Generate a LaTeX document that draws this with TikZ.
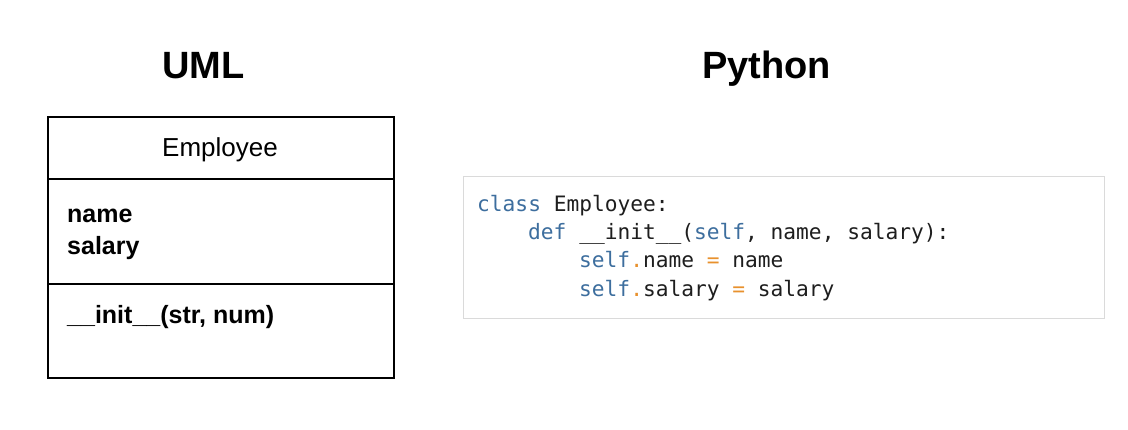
\documentclass[tikz,border=0pt]{standalone}
\usepackage{fontspec}
\setmainfont{Liberation Sans}
\setmonofont{DejaVu Sans Mono}
\definecolor{kw}{HTML}{3D6E9E}
\definecolor{op}{HTML}{E8912D}
\definecolor{codetxt}{HTML}{1E1E1E}
\definecolor{codeframe}{HTML}{DADADA}
\tikzset{
  titletext/.style={font=\bfseries\fontsize{38}{40}\selectfont, inner sep=0pt, anchor=base},
  compartment/.style={draw=black, line width=2pt, minimum width=346pt, anchor=north west, inner sep=0pt},
  classname/.style={font=\fontsize{26}{30}\selectfont, inner sep=0pt, anchor=base},
  member/.style={font=\bfseries\fontsize{25}{30}\selectfont, inner sep=0pt, anchor=base west},
  codeline/.style={font=\ttfamily\fontsize{21.2}{28}\selectfont, text=codetxt, inner sep=0pt, anchor=base west},
  codebox/.style={draw=codeframe, line width=1.2pt, fill=white, anchor=north west, inner sep=0pt, minimum width=641pt, minimum height=142pt}
}
\begin{document}
\begin{tikzpicture}[x=1pt,y=-1pt]
\useasboundingbox[fill=white] (0,0) rectangle (1128,430);
% titles
\node[titletext] (umltitle) at (203.5,79) {UML};
\node[titletext] (pytitle) at (766.5,79) {Python};
% UML class box
\node[compartment, minimum height=62pt] (head) at (47,116) {};
\node[compartment, minimum height=105pt] (attrs) at (47,178) {};
\node[compartment, minimum height=94pt] (ops) at (47,283) {};
\node[classname] (cname) at (220,157) {Employee};
\node[member] (aname) at (67,223) {name};
\node[member] (asal) at (67,255) {salary};
\node[member] (oinit) at (67,324) {\_\_init\_\_(str, num)};
% Python code
\node[codebox] (code) at (463,176) {};
\node[codeline] (l1) at (477,212) {\textcolor{kw}{class} Employee:};
\node[codeline] (l2) at (528,240) {\textcolor{kw}{def} \_\_init\_\_(\textcolor{kw}{self}, name, salary):};
\node[codeline] (l3) at (579,268) {\textcolor{kw}{self}\textcolor{op}{.}name \textcolor{op}{=} name};
\node[codeline] (l4) at (579,297) {\textcolor{kw}{self}\textcolor{op}{.}salary \textcolor{op}{=} salary};
\end{tikzpicture}
\end{document}
